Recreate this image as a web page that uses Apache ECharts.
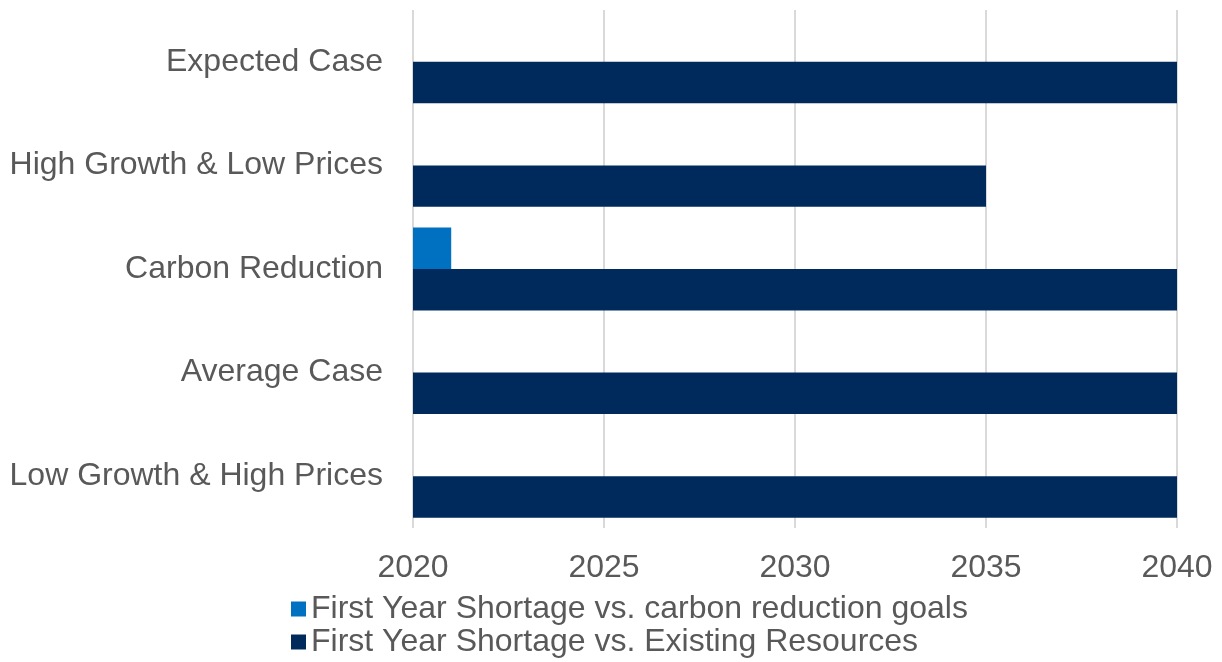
<!DOCTYPE html>
<html>
<head>
<meta charset="utf-8">
<script src="https://cdn.jsdelivr.net/npm/echarts@6/dist/echarts.min.js"></script>
<style>
  html, body { margin: 0; padding: 0; background: #fff; }
  #chart { width: 1222px; height: 662px; }
</style>
</head>
<body>
<div id="chart"></div>
<script>
var categories = ['Low Growth & High Prices', 'Average Case', 'Carbon Reduction', 'High Growth & Low Prices', 'Expected Case'];
var carbonGoals = [null, null, 2021, null, null];
var existingRes = [2040, 2040, 2040, 2035, 2040];
var yearTicks = [2020, 2025, 2030, 2035, 2040];

var chart = echarts.init(document.getElementById('chart'));
chart.setOption({
  animation: false,
  textStyle: { fontFamily: 'Liberation Sans, Arial, sans-serif' },
  grid: { left: 413, right: 45, top: 10, bottom: 134, containLabel: false },
  legend: {
    orient: 'vertical',
    left: 286,
    top: 588,
    height: 90,
    itemGap: 1,
    itemWidth: 15,
    itemHeight: 15,
    icon: 'rect',
    data: ['First Year Shortage vs. carbon reduction goals', 'First Year Shortage vs. Existing Resources'],
    textStyle: { fontSize: 32, lineHeight: 32, color: '#595959', fontFamily: 'Liberation Sans, Arial, sans-serif' }
  },
  xAxis: {
    type: 'value',
    min: yearTicks[0],
    max: yearTicks[yearTicks.length - 1],
    interval: 5,
    axisLine: { show: false },
    axisTick: { show: false },
    splitLine: { show: true, lineStyle: { color: '#d9d9d9', width: 2 } },
    axisLabel: {
      fontSize: 32, color: '#595959', margin: 24,
      formatter: function (value) { return value + ''; }
    }
  },
  yAxis: {
    type: 'category',
    data: categories,
    axisLine: { show: false },
    axisTick: { show: false },
    axisLabel: { fontSize: 32, color: '#595959', margin: 30 }
  },
  series: [
    {
      name: 'First Year Shortage vs. carbon reduction goals',
      type: 'bar',
      data: carbonGoals,
      barGap: '0%',
      barCategoryGap: '20%',
      clip: true,
      itemStyle: { color: '#0070c0' }
    },
    {
      name: 'First Year Shortage vs. Existing Resources',
      type: 'bar',
      data: existingRes,
      barGap: '0%',
      barCategoryGap: '20%',
      clip: true,
      itemStyle: { color: '#002a5c' }
    }
  ]
});
</script>
</body>
</html>
